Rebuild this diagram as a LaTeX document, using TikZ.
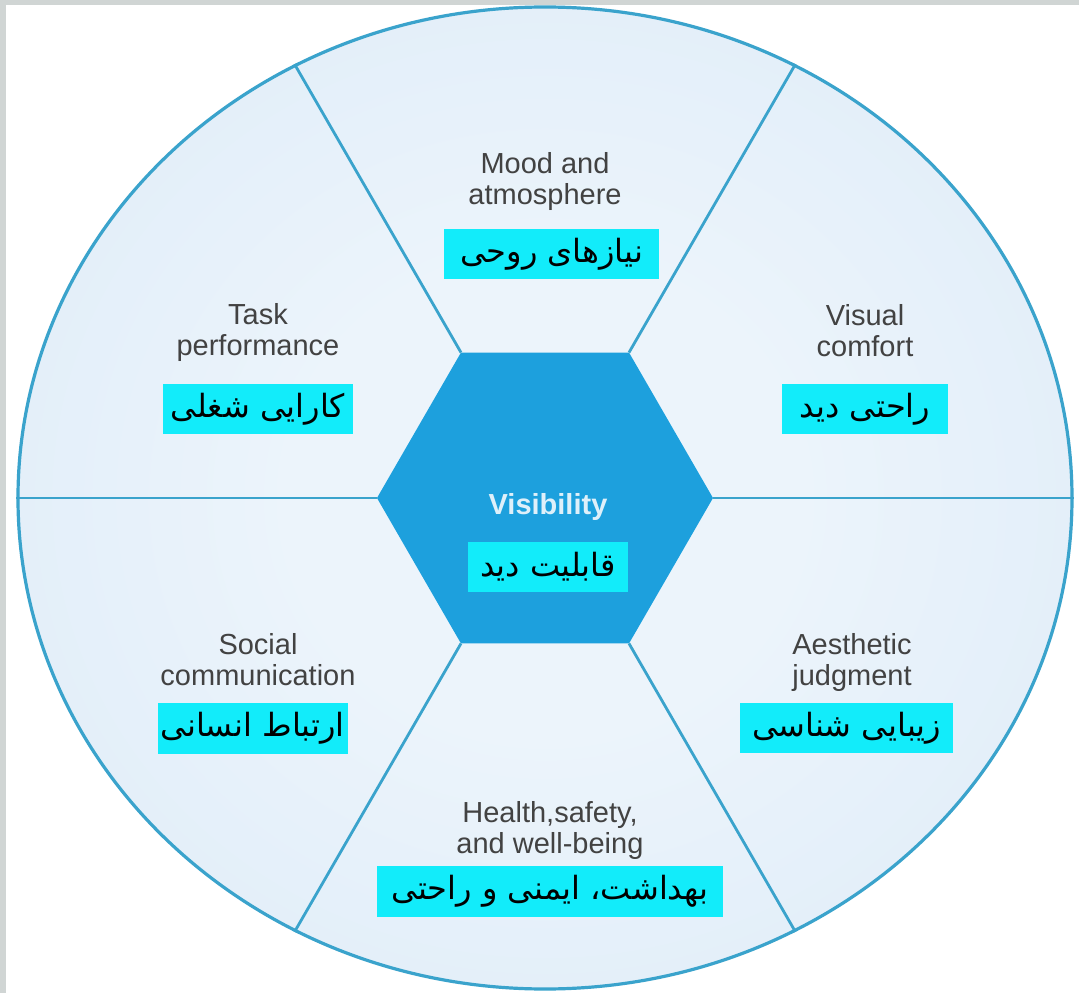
\documentclass[tikz,border=0pt]{standalone}
\usepackage{fontspec}
\setmainfont{Liberation Sans}
\newfontfamily\fafont[Script=Arabic]{DejaVu Sans}
\TeXXeTstate=1
\usetikzlibrary{shapes.geometric,positioning}

\definecolor{rimblue}{RGB}{58,163,204}
\definecolor{hexblue}{RGB}{29,160,221}
\definecolor{boxcyan}{RGB}{18,236,250}
\definecolor{labelgray}{RGB}{66,66,66}
\definecolor{vistext}{RGB}{222,240,250}
\definecolor{edgegray}{RGB}{208,213,212}
\definecolor{wheelin}{RGB}{236,244,251}
\definecolor{wheelout}{RGB}{211,230,246}
\pgfdeclareradialshading{wheelglow}{\pgfpoint{0bp}{0bp}}{color(0bp)=(wheelin); color(12bp)=(wheelin); color(50bp)=(wheelout)}

\tikzset{
  enlabel/.style={align=center, inner sep=0pt, outer sep=0pt, text=labelgray,
    font=\fontsize{21.75}{23.25}\selectfont},
  fabox/.style={fill=boxcyan, inner sep=0pt, outer sep=0pt, minimum height=38pt,
    font=\fontsize{24}{26}\fafont},
  spoke/.style={draw=rimblue, line width=2.1pt},
}

\begin{document}
\begin{tikzpicture}[x=0.75pt, y=0.75pt]
        % page and grey edge
        \useasboundingbox (-545,-495) rectangle (534,498);
        \fill[white] (-545,-495) rectangle (534,498);
        \fill[edgegray] (-545,-495) rectangle (-539,498);
        \fill[edgegray] (-545,493) rectangle (534,498);

        % Define wheel and hub
        \node[ellipse, draw=rimblue, line width=2.4pt, shade, shading=wheelglow,
              minimum width=790.5pt, minimum height=736.5pt, inner sep=0pt] (wheel) at (0,0) {};
        \node[regular polygon, regular polygon sides=6, fill=hexblue,
              minimum size=252pt, inner sep=0pt, outer sep=0pt] (hex) at (0,0) {};

        % Define spokes
        \foreach \a in {0,60,...,300}
            \draw[spoke] (hex.\a) -- (wheel.\a);

        % Hub
        \node[enlabel, text=vistext, font=\bfseries\fontsize{21.75}{23.25}\selectfont] (vis) at (3,-9) {Visibility};
        \node[fabox, minimum width=120pt, below=15.75pt of vis] (visfa) {\beginR قابلیت دید\endR};

        % Segments
        \node[enlabel] (mood) at (0,316.5) {Mood and\\atmosphere};
        \node[fabox, minimum width=161pt, below=13.5pt of mood, xshift=5pt] (moodfa) {\beginR نیازهای روحی\endR};

        \node[enlabel] (task) at (-287,165.5) {Task\\performance};
        \node[fabox, minimum width=143pt, below=16.5pt of task] (taskfa) {\beginR کارایی شغلی\endR};

        \node[enlabel] (visual) at (320,167) {Visual\\comfort};
        \node[fabox, minimum width=124pt, below=20pt of visual] (visualfa) {\beginR راحتی دید\endR};

        \node[enlabel] (social) at (-287,-162) {Social\\communication};
        \node[fabox, minimum width=142.5pt, below=12.75pt of social, xshift=-4pt] (socialfa) {\beginR ارتباط انسانی\endR};

        \node[enlabel] (aesth) at (307,-164.5) {Aesthetic\\judgment};
        \node[fabox, minimum width=160pt, below=8.25pt of aesth, xshift=-4pt] (aesthfa) {\beginR زیبایی شناسی\endR};

        \node[enlabel] (health) at (5,-332) {Health,safety,\\and well-being};
        \node[fabox, minimum width=259pt, below=5.25pt of health] (healthfa) {\beginR بهداشت، ایمنی و راحتی\endR};

    \end{tikzpicture}
\end{document}
